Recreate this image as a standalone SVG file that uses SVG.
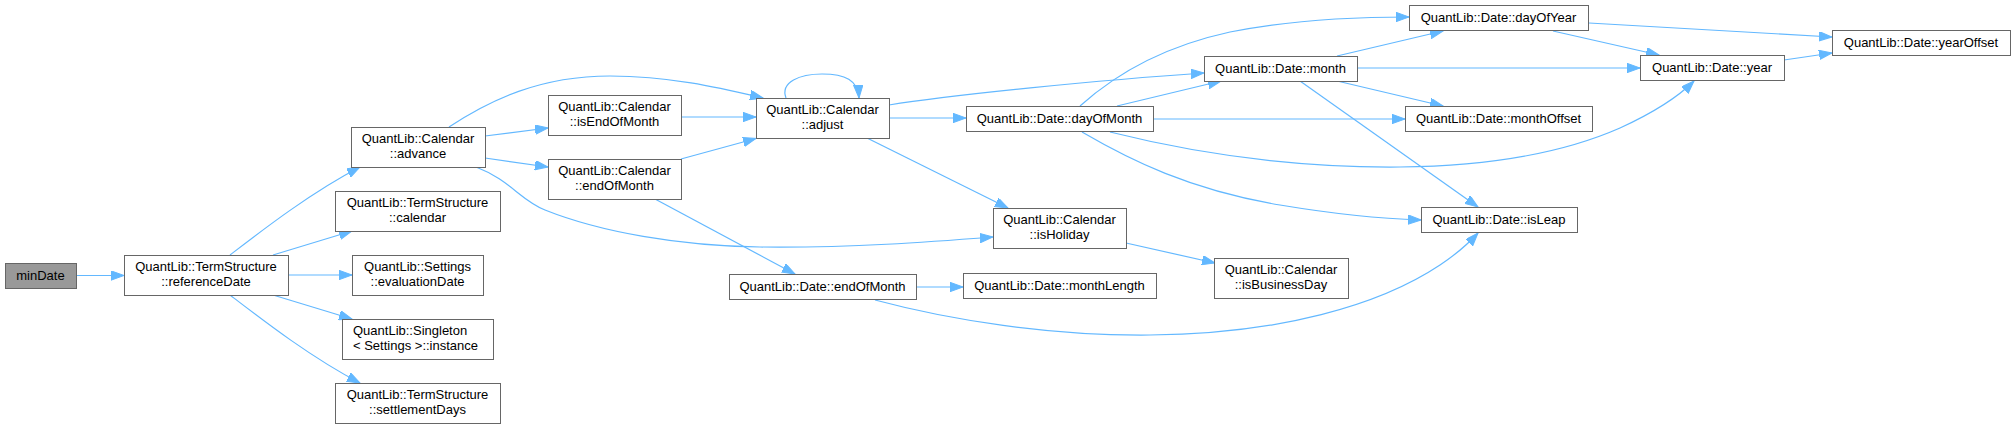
<svg xmlns="http://www.w3.org/2000/svg" width="2012" height="429" viewBox="0 0 2012 429">
<style>
.n rect{fill:#ffffff;stroke:#666666;stroke-width:1}
.n.root rect{fill:#999999}
.n text{font-family:"Liberation Sans",Arial,sans-serif;font-size:13px;fill:#000000;text-anchor:middle}
.n text.l{text-anchor:start}
#edges path{fill:none;stroke:#63b8ff;stroke-width:1.2;marker-end:url(#ah)}
</style>
<defs>
<marker id="ah" markerUnits="userSpaceOnUse" markerWidth="14" markerHeight="10" refX="13" refY="4.7" orient="auto">
<path d="M0,0 L13,4.7 L0,9.4 Z" fill="#63b8ff" stroke="#63b8ff" stroke-width="1"/>
</marker>
</defs>
<rect width="2012" height="429" fill="#ffffff"/>
<g id="edges">
<path d="M76,275.5 L124,275.5"/>
<path d="M230,255 C260,232 310,193 360,167"/>
<path d="M273,255 L352,231"/>
<path d="M288,275 L352,275"/>
<path d="M273,295 L352,319"/>
<path d="M230,295 C260,318 310,357 360,383"/>
<path d="M449,127 C490,100 540,76 610,76 C670,76 720,88 763,98"/>
<path d="M485,136 L548,128"/>
<path d="M485,158 L548,167"/>
<path d="M476,167 C510,180 520,200 545,210 C600,232 680,246 760,247 C850,248 930,242 993,237"/>
<path d="M681,117 L756,117"/>
<path d="M681,159 L756,138.5"/>
<path d="M655,199 L795,274"/>
<path d="M786,98 C780,82 800,74 822,74 C845,74 858,80 859,98"/>
<path d="M889,105 C950,95 1100,80 1204,73"/>
<path d="M889,118 L966,118"/>
<path d="M867,138 L1008,208"/>
<path d="M1080,106 C1120,70 1170,45 1230,32 C1290,20 1350,17 1409,17"/>
<path d="M1117,106 L1221,81"/>
<path d="M1153,119 L1405,119"/>
<path d="M1110,132 C1190,152 1290,168 1400,167 C1500,166 1570,150 1620,128 C1655,112 1680,95 1694,81"/>
<path d="M1082,132 C1130,160 1190,190 1280,205 C1340,215 1390,219 1421,220"/>
<path d="M1337,56 L1443,31"/>
<path d="M1357,68 L1640,68"/>
<path d="M1337,81 L1443,106"/>
<path d="M1300,81 L1478,207"/>
<path d="M1589,23 L1832,37"/>
<path d="M1553,31 L1659,55"/>
<path d="M1784,60 L1832,53"/>
<path d="M1126,243 L1215,263"/>
<path d="M916,287 L963,287"/>
<path d="M875,300 C950,320 1050,336 1150,335 C1280,334 1380,305 1440,265 C1455,255 1468,244 1478,233"/>
</g>
<g id="node_minDate" class="n root"><rect x="5.5" y="263.5" width="71" height="25"/><text x="40.5" y="279.5">minDate</text></g>
<g id="node_referenceDate" class="n"><rect x="124.5" y="255.5" width="164" height="40"/><text x="206" y="271">QuantLib::TermStructure</text><text x="206" y="286">::referenceDate</text></g>
<g id="node_advance" class="n"><rect x="351.5" y="127.5" width="134" height="40"/><text x="418" y="143">QuantLib::Calendar</text><text x="418" y="158">::advance</text></g>
<g id="node_calendar" class="n"><rect x="335.5" y="191.5" width="165" height="40"/><text x="417.5" y="207">QuantLib::TermStructure</text><text x="417.5" y="222">::calendar</text></g>
<g id="node_evaluationDate" class="n"><rect x="352.5" y="255.5" width="131" height="40"/><text x="417.5" y="271">QuantLib::Settings</text><text x="417.5" y="286">::evaluationDate</text></g>
<g id="node_instance" class="n"><rect x="342.5" y="319.5" width="151" height="40"/><text class="l" x="353" y="335">QuantLib::Singleton</text><text class="l" x="353" y="350">&lt; Settings &gt;::instance</text></g>
<g id="node_settlementDays" class="n"><rect x="335.5" y="383.5" width="165" height="40"/><text x="417.5" y="399">QuantLib::TermStructure</text><text x="417.5" y="414">::settlementDays</text></g>
<g id="node_isEndOfMonth" class="n"><rect x="548.5" y="95.5" width="133" height="40"/><text x="614.5" y="111">QuantLib::Calendar</text><text x="614.5" y="126">::isEndOfMonth</text></g>
<g id="node_calEndOfMonth" class="n"><rect x="548.5" y="159.5" width="133" height="40"/><text x="614.5" y="175">QuantLib::Calendar</text><text x="614.5" y="190">::endOfMonth</text></g>
<g id="node_adjust" class="n"><rect x="756.5" y="98.5" width="133" height="40"/><text x="822.5" y="114">QuantLib::Calendar</text><text x="822.5" y="129">::adjust</text></g>
<g id="node_isHoliday" class="n"><rect x="993.5" y="208.5" width="133" height="40"/><text x="1059.5" y="224">QuantLib::Calendar</text><text x="1059.5" y="239">::isHoliday</text></g>
<g id="node_dateEndOfMonth" class="n"><rect x="729.5" y="274.5" width="187" height="25"/><text x="822.5" y="291">QuantLib::Date::endOfMonth</text></g>
<g id="node_monthLength" class="n"><rect x="963.5" y="273.5" width="193" height="25"/><text x="1059.5" y="290">QuantLib::Date::monthLength</text></g>
<g id="node_isBusinessDay" class="n"><rect x="1214.5" y="258.5" width="134" height="40"/><text x="1281" y="274">QuantLib::Calendar</text><text x="1281" y="289">::isBusinessDay</text></g>
<g id="node_dayOfMonth" class="n"><rect x="966.5" y="106.5" width="187" height="25"/><text x="1059.5" y="123">QuantLib::Date::dayOfMonth</text></g>
<g id="node_month" class="n"><rect x="1204.5" y="56.5" width="153" height="25"/><text x="1280.5" y="73">QuantLib::Date::month</text></g>
<g id="node_dayOfYear" class="n"><rect x="1409.5" y="5.5" width="179" height="25"/><text x="1498.5" y="22">QuantLib::Date::dayOfYear</text></g>
<g id="node_monthOffset" class="n"><rect x="1405.5" y="106.5" width="187" height="25"/><text x="1498.5" y="123">QuantLib::Date::monthOffset</text></g>
<g id="node_isLeap" class="n"><rect x="1421.5" y="207.5" width="156" height="25"/><text x="1499" y="224">QuantLib::Date::isLeap</text></g>
<g id="node_year" class="n"><rect x="1640.5" y="55.5" width="144" height="25"/><text x="1712" y="72">QuantLib::Date::year</text></g>
<g id="node_yearOffset" class="n"><rect x="1832.5" y="30.5" width="178" height="25"/><text x="1921" y="47">QuantLib::Date::yearOffset</text></g>
</svg>
